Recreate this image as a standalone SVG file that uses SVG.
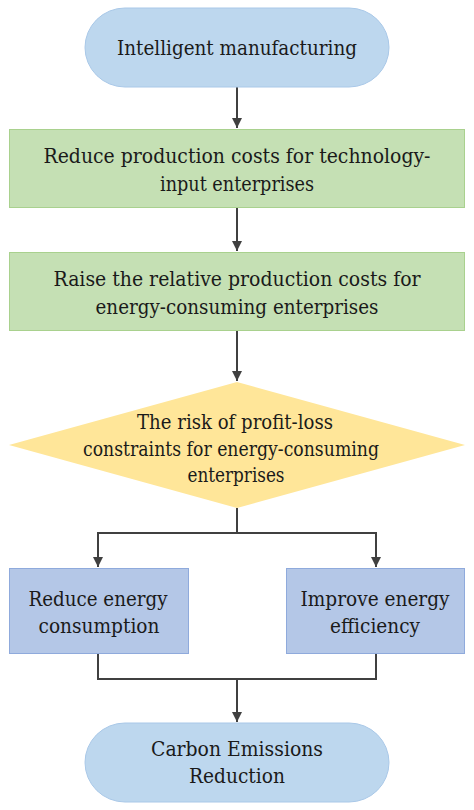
<svg xmlns="http://www.w3.org/2000/svg" width="474" height="810" viewBox="0 0 474 810">
<defs>
<style>
.t{font-family:'DejaVu Serif','Liberation Serif',serif;font-size:20px;fill:#1a1a1a;text-anchor:middle}
.pill{fill:#BDD7EE;stroke:#A9C8E8;stroke-width:1}
.green{fill:#C5E0B4;stroke:#A9D18E;stroke-width:1}
.dia{fill:#FFE699;stroke:none}
.blue{fill:#B4C7E7;stroke:#8FAADC;stroke-width:1}
.conn{fill:none;stroke:#404040;stroke-width:2}
</style>
<marker id="ah" markerWidth="10" markerHeight="10" viewBox="0 0 10 10" refX="10" refY="5" orient="auto" markerUnits="userSpaceOnUse">
<path d="M0,0 L10,5 L0,10 z" fill="#404040"/>
</marker>
</defs>
<rect width="474" height="810" fill="#ffffff"/>
<g id="connectors">
<path class="conn" d="M237,87 V128" marker-end="url(#ah)"/>
<path class="conn" d="M237,208 V251" marker-end="url(#ah)"/>
<path class="conn" d="M237,331 V381" marker-end="url(#ah)"/>
<path class="conn" d="M237,508 V533 H98 V567" marker-end="url(#ah)"/>
<path class="conn" d="M237,533 H376 V567" marker-end="url(#ah)"/>
<path class="conn" d="M98,654 V679 H376 V654"/>
<path class="conn" d="M237,679 V722" marker-end="url(#ah)"/>
</g>
<g id="n1">
<rect class="pill" x="85" y="8" width="304" height="79" rx="40" ry="39.5"/>
<text class="t" x="237" y="55" textLength="240" lengthAdjust="spacingAndGlyphs">Intelligent manufacturing</text>
</g>
<g id="n2">
<rect class="green" x="9.5" y="129.5" width="455" height="78"/>
<text class="t" x="237" y="163" textLength="387" lengthAdjust="spacingAndGlyphs">Reduce production costs for technology-</text>
<text class="t" x="237" y="191" textLength="154" lengthAdjust="spacingAndGlyphs">input enterprises</text>
</g>
<g id="n3">
<rect class="green" x="9.5" y="252.5" width="455" height="78"/>
<text class="t" x="237" y="286" textLength="367" lengthAdjust="spacingAndGlyphs">Raise the relative production costs for</text>
<text class="t" x="237" y="314" textLength="283" lengthAdjust="spacingAndGlyphs">energy-consuming enterprises</text>
</g>
<g id="n4">
<polygon class="dia" points="237,382 465,445 237,508 9,445"/>
<text class="t" x="235" y="429" textLength="196" lengthAdjust="spacingAndGlyphs">The risk of profit-loss</text>
<text class="t" x="231" y="456" textLength="296" lengthAdjust="spacingAndGlyphs">constraints for energy-consuming</text>
<text class="t" x="236" y="482" textLength="97" lengthAdjust="spacingAndGlyphs">enterprises</text>
</g>
<g id="n5">
<rect class="blue" x="9.5" y="568.5" width="179" height="85"/>
<text class="t" x="98" y="606" textLength="139" lengthAdjust="spacingAndGlyphs">Reduce energy</text>
<text class="t" x="99" y="633" textLength="121" lengthAdjust="spacingAndGlyphs">consumption</text>
</g>
<g id="n6">
<rect class="blue" x="286.5" y="568.5" width="178" height="85"/>
<text class="t" x="375" y="606" textLength="149" lengthAdjust="spacingAndGlyphs">Improve energy</text>
<text class="t" x="375" y="633" textLength="90" lengthAdjust="spacingAndGlyphs">efficiency</text>
</g>
<g id="n7">
<rect class="pill" x="85" y="723" width="304" height="79" rx="40" ry="39.5"/>
<text class="t" x="237" y="756" textLength="172" lengthAdjust="spacingAndGlyphs">Carbon Emissions</text>
<text class="t" x="237" y="783" textLength="96" lengthAdjust="spacingAndGlyphs">Reduction</text>
</g>
</svg>
